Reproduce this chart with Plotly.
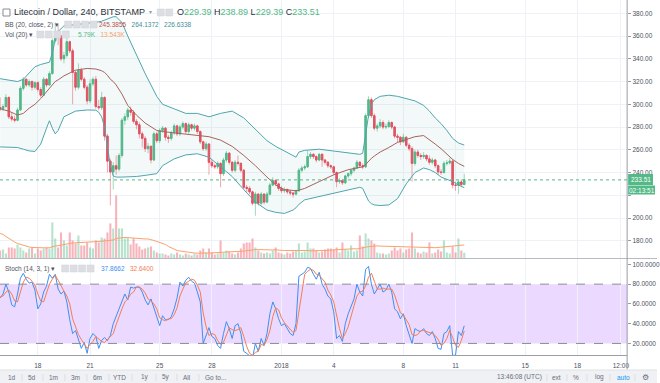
import plotly.graph_objects as go
import pandas as pd

# ---------------- data ----------------
first_bar = "2017-12-15 20:00"
n_bars = 161

open_ = [297,296,298,306,289,287,286,295,314,322,317,320,315,319,313,308,322,317,327,356,
         362,360,340,343,355,347,328,315,330,322,315,303,318,322,298,297,306,272,250,240.5,
         246,243,255,286,289,295,293,285,282,274,270,261,263,251,274,268,277,279,271,270,
         275,281,274,280,283,276,282,279,281,276,267,261,265,249,246,245,248,239,251,257,
         249,242,249,248,242,227,226,223,213,221,213,221,214,221,229,233,230,226,224,225,
         223,222,221,224,242,244,245,254,256,254,251,256,251,249,246,245,240,232,233,231,
         237,239,242,244,249,246,245,290,304,290,279,281,284,280,280.5,284,280,272,271,267,
         271,264,261,248,258,255,254,255,252,249,251,246,240.5,240,248,248.5,250,229,228.7,231.7,
         229.39]
high = [306,300,309,307,293,290,297,316,324,323,322,321,320,320,315,324,323,329,358,372,
        370,361,346,358,356,349,330,336,332,324,317,322,324,325,304,311,307,274,252,249,
        255,257,288,292,297,298,295,287,284,276,272,266,264,276,276,279,281,280,273,277,
        283,282,282,285,284,284,283,283,282,277,268,267,266,251,248,250,249,253,259,258,
        250,251,255,249,243,229,228,224,223,222,223,222,223,231,236,234,231,228,227,226,
        225,223,225,244,246,247,259,258,257,255,257,257,252,250,247,246,241,235,234,238,
        240,243,245,251,250,248,292,307,306,292,283,287,286,283,286,285,281,274,272,274,
        272,266,263,260,260,257,258,256,255,253,252,247,243,250,251,253,252,232,233,234,
        238.89]
low = [294,294,297,287,285,284,285,294,312,315,315,312,313,311,306,307,315,316,326,354,
       352,338,336,341,345,300,312,313,320,313,300,301,316,296,295,295,268,240,211,225,
       238,241,253,282,286,290,283,278,270,262,258,257,248,250,266,266,275,268,266,268,
       273,272,272,278,274,274,277,277,274,265,259,259,238,244,243,243,227,237,249,247,
       240,240,246,240,225,223,221,211,202,211,211,212,213,220,228,228,224,222,222,221,
       220,218,220,223,240,242,244,252,252,249,250,245,247,244,243,238,227,230,229,230,
       235,237,240,243,244,243,244,288,288,277,276,279,278,278,279,278,270,266,264,266,
       262,259,232,246,253,251,252,250,247,247,244,238,238,239,246,247,226,224,221,227,
       229.39]
close = [296,298,306,289,287,286,295,314,322,317,320,315,319,313,308,322,317,327,356,362,
         360,340,343,355,347,328,315,330,322,315,303,318,322,298,297,306,272,250,240.5,246,
         243,255,286,289,295,293,285,282,274,270,261,263,251,274,268,277,279,271,270,275,
         281,274,280,283,276,282,279,281,276,267,261,265,249,246,245,248,239,251,257,249,
         242,249,248,242,227,226,223,213,221,213,221,214,221,229,233,230,226,224,225,223,
         222,221,224,242,244,245,254,256,254,251,256,251,249,246,245,240,232,233,231,237,
         239,242,244,249,246,245,290,304,290,279,281,284,280,280.5,284,280,272,271,267,271,
         264,261,248,258,255,254,255,252,249,251,246,240.5,240,248,248.5,250,229,228.7,231.7,229.39,
         233.51]

volume_k = [8,9,5,11,11,10,14,11,8,6,10,11,5,10,8,10,11,10,36,20,
            11,26,18,13,26,18,15,23,13,13,16,11,10,18,16,21,20,26,35,30,
            63,30,30,20,21,14,20,15,12,9,10,11,12,8,6,5,5,4,3,5,
            4,6,4,3,5,4,3,5,4,8,10,6,10,6,4,5,18,6,8,7,
            5,4,6,10,15,16,16,20,11,8,6,5,6,5,8,11,6,5,4,6,
            5,7,8,15,6,7,16,10,10,8,6,7,9,10,10,9,11,6,16,9,
            8,13,7,8,23,12,25,20,18,15,6,5,5,4,5,8,11,8,10,6,
            9,10,26,10,6,5,7,6,16,5,6,9,7,18,6,5,12,6,20,8,
            5.79]
vol_ma_k = [25,24,22,20,18,16.5,15,14,13,12,11.5,11,10.8,10.6,10.5,10.5,10.6,10.8,12,12.5,
            12.8,13.5,14,14.2,15,15.5,15.6,16,16,16.2,16.3,16.3,16.5,16.8,17,17.2,17.5,18,18,18.5,
            20,20.5,21,21,20.8,20.5,20.8,20.5,20.3,20,19.5,19.5,19,18,17,16,15,14,12,10.5,
            9,8,7.5,7,6.5,6,5.8,5.5,5.3,5.2,5.3,5.3,5.5,5.6,5.6,5.6,6.2,6.3,6.5,6.6,
            6.6,6.5,6.6,6.8,7.3,7.8,8.3,8.8,8.9,8.9,8.7,8.6,8.6,8.4,8.5,8.7,8.1,8.1,8,8,
            8,8.1,8.2,8.6,8.2,8,8,7.6,7.6,7.6,7.5,7.6,7.8,8.1,8.4,8.6,8.9,8.8,9.2,9.3,
            9.4,9.7,9.7,9.5,10.3,10.4,11.3,11.8,12.3,12.7,12.6,12.4,12.3,12.2,12.1,12,11.9,11.6,11.6,11.3,
            11.2,11.2,11.7,11.4,11.4,11,10.9,10.8,11.1,10.8,10.8,11,11.2,11.6,11.8,12,12.3,12.6,13,13.3,
            13.54]

bb_idx = [0,3,6,8,10,12,14,16,17,18,19,20,22,26,30,33,34,35,36,37,38,39,40,42,44,47,50,54,56,60,
          64,68,72,76,80,84,88,92,95,98,101,102,103,105,110,115,120,124,125,126,127,128,129,131,134,
          137,140,143,146,148,150,152,154,156,158,160]
bb_upper = [322.5,321.5,320,322,328,333,335,336,337,345,357,364,369,370,371,372,372.5,373,374,375,376,377,377,372,360,343,327,307,300,296,
            292,292,289,292,294,288,278,268,263,259,255,253.5,258,259.5,260.5,259,257,256,257,275,290,300,304,307,308,
            307,305,303,299,294,288,283,277,270,266,264.1372]
bb_mid = [296,294,290.5,292,296.5,300,305,311,314,318,320,321.5,325,330,331.5,331,330.5,329.5,328,325.5,322,320,317,309,299,290.5,283.5,277,276,275,
          274,273,271.5,268.5,263,255,246,236,229,225,224,224,224.5,226,232,238,242.5,244.5,245,247,250,252.5,254.5,258,262,
          266.5,269,271.5,272.5,269,265,261,256,251.5,248,245.3855]
bb_lower = [262.5,262.5,262,260.5,259,258.5,265,279,285.5,279,274,277,289,294,295,294.8,293,289,280,263,246,237,236,236,236,236.5,237.5,239,246,252,
            255.5,256.5,253.5,245,236.5,225,214,207,205,204,207,209,212,216,219,221.5,225,227,226,220,215,212.6,211.5,211,211.5,
            217,230,240,244,242.5,240,236,234,232,229,226.6338]

stoch_k = [66,70,80,72,59,57,70,86,91,85,81,82,74,55,60,72,78,90,86,90,
           75,70,73,62,44,30,33,25,15,21,10,25,30,27,15,23,26,23,28,40,
           48,55,62,70,64,77,76,77,77,72,64,59,65,56,45,38,48,44,44,47,
           55,66,82,78,84,87,83,81,72,62,20,28,36,27,25,18,15,30,42,35,
           25,38,40,30,12,10,8,5,20,12,25,18,30,50,62,55,45,38,40,35,
           30,28,40,88,90,92,97,96,90,85,92,80,75,68,65,52,25,28,22,40,
           50,58,65,80,72,68,95,98,80,70,75,80,72,74,80,72,55,52,45,50,
           38,30,20,35,33,32,35,30,28,32,25,15,14,30,32,38,8,8,32,28,
           37.8662]
stoch_d = [67,68,72,74,70,63,62,71,82,87,86,83,79,70,63,62,70,80,85,89,
           84,78,73,68,60,45,36,29,24,20,15,19,22,27,24,22,21,24,26,30,
           39,48,55,62,65,70,72,77,77,75,71,65,63,60,55,46,44,43,45,45,
           49,56,68,75,81,83,85,84,79,72,51,37,28,30,29,23,19,21,29,36,
           34,33,34,36,27,17,10,8,11,12,19,18,24,33,47,56,54,46,41,38,
           35,31,33,52,73,90,93,95,94,90,89,86,82,74,69,62,47,35,25,30,
           37,49,58,68,72,73,78,87,91,83,75,75,76,75,75,75,69,60,51,49,
           44,39,29,28,29,33,33,32,31,30,28,24,18,20,25,33,26,18,16,23,
           32.64]

tick_dates = ["2017-12-18", "2017-12-21", "2017-12-25", "2017-12-28", "2018-01-01",
              "2018-01-04", "2018-01-08", "2018-01-11", "2018-01-15", "2018-01-18",
              "2018-01-20 12:00"]
tick_text = ["18", "21", "25", "28", "2018", "4", "8", "11", "15", "18", "12:00"]
price_ticks = [180, 200, 220, 240, 260, 280, 300, 320, 340, 360, 380]
price_tick_text = ["180.00", "200.00", "", "240.00", "260.00", "280.00", "300.00",
                   "320.00", "340.00", "360.00", "380.00"]   # 220.00 sits under the price tag
stoch_ticks = [20, 40, 60, 80, 100]

last_price = 233.51

# ---------------- styling / layout helpers ----------------
W, H = 660, 383
PLOT_R = 630          # px where the price scale starts
PRICE_BOTTOM = 258.5  # px
STOCH_TOP, STOCH_BOTTOM = 259, 355.5

GREEN = "#53b987"
RED = "#eb4d5c"
TEAL = "#4fa5ae"
MID = "#a8625c"
ORANGE = "#f9a26c"
BLUE = "#3d8ff0"
DORANGE = "#f27d52"
GRID = "#eef1f6"
TXT = "#4c525e"
FONT = "Liberation Sans, Arial, sans-serif"


def py(px):
    return 1 - px / H


def pxx(px):
    return px / W


times = pd.date_range(first_bar, periods=n_bars, freq="4h")
bb_times = [times[i] for i in bb_idx]
px_per_day = 17.484
x_start = pd.Timestamp("2017-12-18") - pd.Timedelta(days=38 / px_per_day)
x_end = x_start + pd.Timedelta(days=PLOT_R / px_per_day)

vol_colors = ["rgba(83,185,135,0.42)" if c >= o else "rgba(235,77,92,0.42)"
              for o, c in zip(open_, close)]
body_top = [max(o, c) for o, c in zip(open_, close)]
body_bot = [min(o, c) for o, c in zip(open_, close)]

fig = go.Figure()

fig.add_trace(go.Bar(x=times, y=volume_k, marker=dict(color=vol_colors, line=dict(width=0)),
                     width=4 * 3600 * 1000 * 0.72, xaxis="x", yaxis="y2", hoverinfo="skip"))
fig.add_trace(go.Scatter(x=times, y=vol_ma_k, mode="lines", line=dict(color=ORANGE, width=1),
                         xaxis="x", yaxis="y2", hoverinfo="skip"))

fig.add_trace(go.Scatter(x=bb_times, y=bb_upper, mode="lines", line=dict(color=TEAL, width=1),
                         xaxis="x", yaxis="y", hoverinfo="skip"))
fig.add_trace(go.Scatter(x=bb_times, y=bb_lower, mode="lines", line=dict(color=TEAL, width=1),
                         fill="tonexty", fillcolor="rgba(79,165,174,0.07)",
                         xaxis="x", yaxis="y", hoverinfo="skip"))
fig.add_trace(go.Scatter(x=bb_times, y=bb_mid, mode="lines", line=dict(color=MID, width=1),
                         xaxis="x", yaxis="y", hoverinfo="skip"))

# pale wicks
fig.add_trace(go.Candlestick(
    x=times, open=open_, high=high, low=low, close=close,
    increasing=dict(line=dict(color="rgba(83,185,135,0.55)", width=1), fillcolor="rgba(0,0,0,0)"),
    decreasing=dict(line=dict(color="rgba(235,77,92,0.5)", width=1), fillcolor="rgba(0,0,0,0)"),
    whiskerwidth=0, xaxis="x", yaxis="y", hoverinfo="skip"))
# solid bodies
fig.add_trace(go.Candlestick(
    x=times, open=open_, high=body_top, low=body_bot, close=close,
    increasing=dict(line=dict(color=GREEN, width=1), fillcolor=GREEN),
    decreasing=dict(line=dict(color=RED, width=1), fillcolor=RED),
    whiskerwidth=0, xaxis="x", yaxis="y", hoverinfo="skip"))

fig.add_trace(go.Scatter(x=times, y=stoch_k, mode="lines", line=dict(color=BLUE, width=1),
                         xaxis="x2", yaxis="y3", hoverinfo="skip"))
fig.add_trace(go.Scatter(x=times, y=stoch_d, mode="lines", line=dict(color=DORANGE, width=1),
                         xaxis="x2", yaxis="y3", hoverinfo="skip"))

shapes = []
# stochastic band and guide lines
shapes.append(dict(type="rect", xref="x2 domain", yref="y3", x0=0, x1=1, y0=20, y1=80,
                   fillcolor="rgba(153,51,255,0.19)", line=dict(width=0), layer="below"))
for lvl in (20, 80):
    shapes.append(dict(type="line", xref="x2 domain", yref="y3", x0=0, x1=1, y0=lvl, y1=lvl,
                       line=dict(color="#8a8d96", width=1, dash="dash")))
# current price dotted line
shapes.append(dict(type="line", xref="x domain", yref="y", x0=0, x1=1, y0=last_price, y1=last_price,
                   line=dict(color=GREEN, width=1, dash="dot")))
# frame lines
shapes.append(dict(type="line", xref="paper", yref="paper", x0=0, x1=1,
                   y0=py(PRICE_BOTTOM), y1=py(PRICE_BOTTOM), line=dict(color="#b7bac2", width=1)))
shapes.append(dict(type="line", xref="paper", yref="paper", x0=0, x1=pxx(PLOT_R),
                   y0=py(STOCH_BOTTOM), y1=py(STOCH_BOTTOM), line=dict(color="#9a9da5", width=1)))
shapes.append(dict(type="line", xref="paper", yref="paper", x0=pxx(PLOT_R), x1=pxx(PLOT_R),
                   y0=py(0), y1=py(STOCH_BOTTOM + 14), line=dict(color="#9a9da5", width=1)))
# price tags
shapes.append(dict(type="rect", xref="paper", yref="paper", x0=pxx(631), x1=pxx(656),
                   y0=py(185), y1=py(174), fillcolor=GREEN, line=dict(width=0)))
shapes.append(dict(type="rect", xref="paper", yref="paper", x0=pxx(631), x1=pxx(658),
                   y0=py(194.5), y1=py(185.5), fillcolor=GREEN, line=dict(width=0)))
# bottom toolbar
shapes.append(dict(type="rect", xref="paper", yref="paper", x0=0, x1=1, y0=0, y1=py(370),
                   fillcolor="#eff1f4", line=dict(width=0)))
shapes.append(dict(type="line", xref="paper", yref="paper", x0=0, x1=1, y0=py(370), y1=py(370),
                   line=dict(color="#dfe1e5", width=1)))


def icon_boxes(x0, yc, n):
    for k in range(n):
        xa = x0 + k * 8.5
        shapes.append(dict(type="rect", xref="paper", yref="paper",
                           x0=pxx(xa), x1=pxx(xa + 7), y0=py(yc + 3.5), y1=py(yc - 3.5),
                           fillcolor="#dcdee3", line=dict(color="#cfd2d8", width=0.5)))


icon_boxes(158, 12.5, 2)
icon_boxes(65, 24.5, 4)
icon_boxes(37, 34.5, 4)
icon_boxes(62, 268.5, 4)
# collapse icon
shapes.append(dict(type="rect", xref="paper", yref="paper", x0=pxx(3), x1=pxx(10),
                   y0=py(16), y1=py(9), fillcolor="white", line=dict(color="#8a8d96", width=1)))

annotations = []


def label(x, y, text, size=6.5, color=TXT, anchor="left"):
    annotations.append(dict(xref="paper", yref="paper", x=pxx(x), y=py(y), text=text,
                            showarrow=False, xanchor=anchor, yanchor="middle",
                            font=dict(family=FONT, size=size, color=color)))


def span(t, c):
    return f'<span style="color:{c}">{t}</span>'


label(12.5, 12.5, "Litecoin / Dollar, 240, BITSTAMP", size=9, color="#2a2e39")
label(148, 12.5, "▾", size=6, color="#9a9da5")
label(176, 12.5, span("O", "#2a2e39") + span("229.39", GREEN) + " " +
      span("H", "#2a2e39") + span("238.89", GREEN) + " " +
      span("L", "#2a2e39") + span("229.39", GREEN) + " " +
      span("C", "#2a2e39") + span("233.51", GREEN), size=9)
label(3, 24.5, "BB (20, close, 2) ▾", color="#50535e")
label(97, 24.5, span("245.3855", "#c0504d") + "   " + span("264.1372", "#3f8f99") +
      "   " + span("226.6338", "#3f8f99"))
label(3, 34.5, "Vol (20) ▾", color="#50535e")
label(76, 34.5, span("5.79K", GREEN) + "   " + span("13.543K", ORANGE))
label(3, 268.5, "Stoch (14, 3, 1) ▾", color="#50535e")
label(99, 268.5, span("37.8662", BLUE) + "   " + span("32.6400", DORANGE))

label(643.5, 179.5, "233.51", size=6.5, color="white", anchor="center")
label(644.5, 190, "02:13:51", size=6.5, color="white", anchor="center")

toolbar_left = [(12, "1d"), (32, "5d"), (54, "1m"), (76, "3m"), (98, "6m"), (120, "YTD"),
                (146, "1y"), (167, "5y"), (188, "All"), (217, "Go to...")]
for xpos, t in toolbar_left:
    label(xpos, 377, t, size=6.5, color="#6a6d78", anchor="center")
for xpos in (22, 43, 65, 87, 109, 133, 157, 178, 200):
    label(xpos, 377, "|", size=6.5, color="#cfd2d8", anchor="center")
label(522, 377, "13:46:08 (UTC)", size=6.5, color="#6a6d78", anchor="center")
label(549, 377, "|", size=6.5, color="#cfd2d8", anchor="center")
label(559, 377, "ext", size=6.5, color="#6a6d78", anchor="center")
label(570, 377, "|", size=6.5, color="#cfd2d8", anchor="center")
label(579, 377, "%", size=6.5, color="#6a6d78", anchor="center")
label(590, 377, "|", size=6.5, color="#cfd2d8", anchor="center")
label(602, 377, "log", size=6.5, color="#6a6d78", anchor="center")
label(613, 377, "|", size=6.5, color="#cfd2d8", anchor="center")
label(626, 377, "auto", size=6.5, color="#2196f3", anchor="center")
label(638, 377, "|", size=6.5, color="#cfd2d8", anchor="center")
label(648, 377, "⚙", size=8, color="#6a6d78", anchor="center")

axis_font = dict(family=FONT, size=6.5, color=TXT)
dom_x = [0, PLOT_R / W]

fig.update_layout(
    width=W, height=H, margin=dict(l=0, r=0, t=0, b=0),
    paper_bgcolor="white", plot_bgcolor="white", showlegend=False,
    hovermode=False, dragmode=False, boxmode="overlay",
    shapes=shapes, annotations=annotations,
    xaxis=dict(domain=dom_x, anchor="y", range=[x_start, x_end], type="date",
               tickvals=tick_dates, showticklabels=False, showgrid=True, gridcolor=GRID,
               gridwidth=1, zeroline=False, showline=False, ticks="",
               rangeslider=dict(visible=False), fixedrange=True),
    xaxis2=dict(domain=dom_x, anchor="y3", matches="x", type="date",
                tickvals=tick_dates, ticktext=tick_text, tickfont=axis_font,
                showgrid=True, gridcolor=GRID, zeroline=False, showline=False,
                ticks="outside", ticklen=4, tickcolor="rgba(0,0,0,0)",
                rangeslider=dict(visible=False), fixedrange=True),
    yaxis=dict(domain=[py(PRICE_BOTTOM), 1], anchor="x", side="right",
               range=[164.4, 391.7], tickvals=price_ticks, ticktext=price_tick_text,
               tickfont=axis_font, ticks="outside", ticklen=3, tickcolor="#9a9da5",
               showgrid=True, gridcolor=GRID, zeroline=False, showline=False, fixedrange=True),
    yaxis2=dict(domain=[py(PRICE_BOTTOM), 1], anchor="x", overlaying="y",
                range=[0, 258], visible=False, fixedrange=True),
    yaxis3=dict(domain=[py(STOCH_BOTTOM), py(STOCH_TOP)], anchor="x2", side="right",
                range=[7.79, 105.45], tickvals=stoch_ticks, tickformat=".4f",
                tickfont=axis_font, ticks="outside", ticklen=3, tickcolor="#9a9da5",
                showgrid=False, zeroline=False, showline=False, fixedrange=True),
)

fig.write_html("out.html", config={"displayModeBar": False, "staticPlot": True},
               post_script="document.body.style.margin='0';document.body.style.overflow='hidden';")
